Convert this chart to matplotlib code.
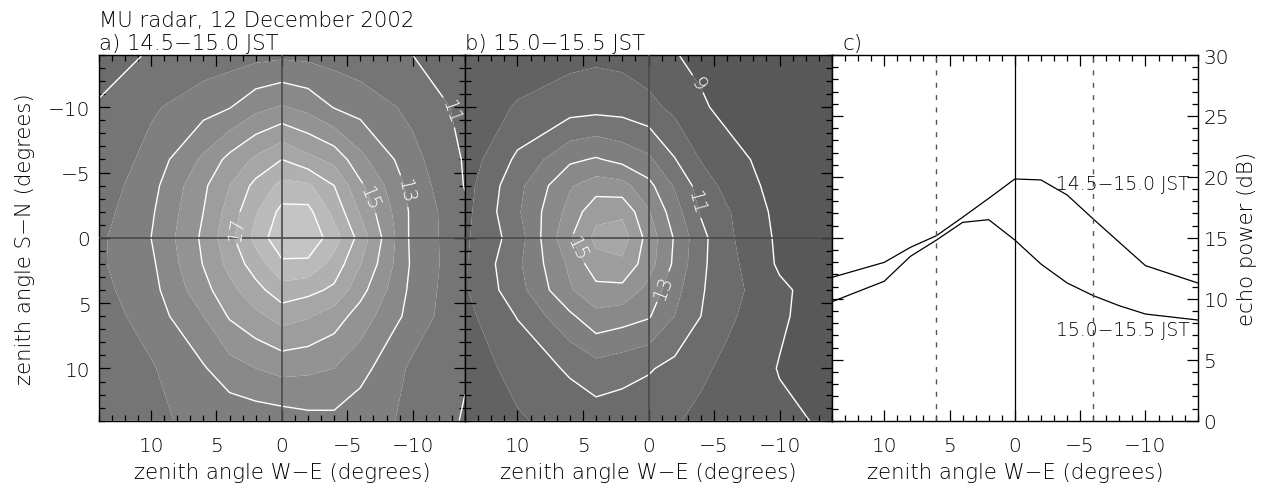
import numpy as np
import matplotlib
matplotlib.use("Agg")
import matplotlib.pyplot as plt
from matplotlib.ticker import MultipleLocator

plt.rcParams['font.family'] = ['DejaVu Sans']
plt.rcParams['font.weight'] = 'light'
plt.rcParams['axes.labelweight'] = 'light'
plt.rcParams['axes.unicode_minus'] = True

# ---------------- data ----------------
# grid of zenith angles (degrees); x = W-E, y = S-N
zen = [-14, -10, -6, -4, -2, 0, 2, 4, 6, 10, 14]

# echo power (dB), rows: S-N from -14 to 14, columns: W-E from -14 to 14
power_a = [
    [10.4, 11.0, 11.4, 11.6, 11.75, 11.8, 11.7, 11.55, 11.4, 11.1, 10.5],
    [10.7, 11.75, 12.6, 12.95, 13.7, 14.1, 13.7, 12.95, 12.6, 11.85, 11.1],
    [10.9, 12.3, 14.3, 15.7, 16.3, 17.0, 16.2, 15.3, 14.2, 12.35, 11.2],
    [10.95, 12.6, 15.2, 17.0, 18.2, 18.3, 17.3, 16.0, 14.8, 12.65, 11.4],
    [11.2, 12.75, 15.9, 17.7, 19.3, 19.3, 17.9, 16.4, 15.0, 12.85, 11.6],
    [11.3, 12.7, 16.6, 18.5, 19.7, 19.8, 18.3, 16.7, 15.2, 13.0, 11.8],
    [11.25, 12.8, 16.05, 17.6, 18.8, 18.8, 17.5, 16.3, 15.05, 12.8, 11.85],
    [11.2, 12.7, 15.35, 16.8, 17.3, 17.6, 16.65, 15.7, 14.65, 12.65, 11.7],
    [11.15, 12.6, 14.55, 15.5, 16.1, 16.4, 15.75, 15.1, 14.0, 12.45, 11.5],
    [11.1, 11.8, 13.35, 14.0, 14.2, 14.3, 14.0, 13.6, 12.9, 11.9, 11.35],
    [10.9, 11.8, 12.4, 12.75, 12.7, 12.5, 12.4, 12.3, 12.2, 11.85, 11.2],
]

power_b = [
    [8.1, 8.3, 8.6, 8.75, 9.05, 9.4, 9.7, 9.8, 9.7, 9.4, 9.1],
    [8.15, 8.3, 8.7, 9.15, 9.75, 10.3, 10.6, 10.65, 10.55, 10.1, 9.3],
    [8.2, 8.5, 9.4, 9.95, 11.05, 12.2, 12.7, 13.1, 12.8, 11.2, 9.4],
    [8.2, 8.6, 9.7, 10.55, 11.9, 13.3, 14.35, 14.5, 13.9, 11.7, 9.6],
    [8.2, 8.7, 10.1, 10.9, 12.45, 14.1, 15.8, 15.7, 14.35, 11.85, 9.7],
    [8.3, 8.8, 10.2, 11.3, 12.9, 14.6, 16.5, 16.27, 14.9, 11.48, 9.84],
    [8.35, 8.85, 10.35, 11.2, 12.8, 14.45, 15.8, 15.6, 14.2, 11.8, 9.9],
    [8.4, 9.2, 10.4, 11.1, 12.35, 13.7, 14.7, 14.7, 13.9, 11.6, 9.9],
    [8.4, 9.15, 10.2, 11.0, 12.0, 13.1, 13.45, 13.7, 12.8, 11.05, 9.7],
    [8.3, 8.95, 9.75, 10.2, 10.7, 11.1, 11.35, 11.6, 11.15, 10.3, 9.5],
    [8.85, 9.2, 9.5, 9.75, 10.1, 10.3, 10.45, 10.5, 10.35, 9.9, 9.3],
]

# W-E cuts (panel c)
cut_x = [14, 10, 8, 6, 4, 2, 0, -2, -4, -6, -8, -10, -14]
cut_a = [11.76, 12.99, 14.22, 15.18, 16.69, 18.24, 19.83, 19.75, 18.52, 16.55, 14.63, 12.72, 11.3]
cut_b = [9.76, 11.44, 13.48, 14.82, 16.27, 16.49, 14.82, 12.85, 11.3, 10.26, 9.43, 8.75, 8.26]

title_main = "MU radar, 12 December 2002"
panel_titles = ["a) 14.5\u221215.0 JST", "b) 15.0\u221215.5 JST", "c)"]
series_labels = ["14.5\u221215.0 JST", "15.0\u221215.5 JST"]

fill_levels = np.arange(7, 22, 1)
line_a = [11, 13, 15, 17, 19]
line_b = [9, 11, 13, 15]

# ---------------- figure ----------------
W, H = 1262, 485
fig = plt.figure(figsize=(W / 100, H / 100), dpi=100)
fig.patch.set_facecolor('white')


def rect(l, r, t, b):
    return [l / W, 1 - b / H, (r - l) / W, (b - t) / H]


axa = fig.add_axes(rect(98.7, 465, 56, 421.7))
axb = fig.add_axes(rect(465, 832, 56, 421.7))
axc = fig.add_axes(rect(832, 1197.7, 56, 421.7))

FS = 15.3
FS_NUM = 14.5


def band_color(k):
    g = (88 + 9.8 * (k - 8)) / 255.0
    g = min(max(g, 0), 1)
    return (g, g, g)


band_colors = [band_color(k) for k in fill_levels[:-1]]

X, Y = np.meshgrid(zen, zen)


def style_axes(ax):
    ax.xaxis.set_major_locator(MultipleLocator(5))
    ax.xaxis.set_minor_locator(MultipleLocator(1))
    ax.yaxis.set_major_locator(MultipleLocator(5))
    ax.yaxis.set_minor_locator(MultipleLocator(1))
    ax.tick_params(which='both', direction='in', top=True, right=True,
                   bottom=True, left=True, colors='black', labelsize=FS_NUM)
    ax.tick_params(which='major', length=8, width=0.9)
    ax.tick_params(which='minor', length=4, width=0.9)
    ax.tick_params(axis='x', pad=11)
    ax.tick_params(axis='y', pad=6)
    for s in ax.spines.values():
        s.set_linewidth(1.0)
        s.set_color('black')


def draw_map(ax, Z, lines, label_levels, label_pos):
    Z = np.array(Z)
    ax.contourf(X, Y, Z, levels=fill_levels, colors=band_colors, antialiased=True)
    cs = ax.contour(X, Y, Z, levels=lines, colors='white', linewidths=1.0)
    ax.axvline(0, color='#4a4a4a', lw=1.2, zorder=3)
    ax.axhline(0, color='#4a4a4a', lw=1.2, zorder=3)
    ax.clabel(cs, levels=label_levels, manual=label_pos, inline=True, inline_spacing=4,
              fmt='%d', fontsize=FS_NUM - 0.5, colors='white')
    ax.set_xlim(14, -14)
    ax.set_ylim(14, -14)
    style_axes(ax)
    ax.set_xlabel("zenith angle W\u2212E (degrees)", fontsize=FS, labelpad=5)


draw_map(axa, power_a, line_a, [11, 13, 15, 17],
         [(3.2, -0.7), (-6.6, -3.0), (-8.75, -3.5), (-12.6, -9.6)])
axa.set_ylabel("zenith angle S\u2212N (degrees)", fontsize=FS, labelpad=9)

draw_map(axb, power_b, line_b, [9, 11, 13, 15],
         [(-3.56, -11.65), (-3.2, -2.6), (-1.0, 3.7), (5.6, 0.9)])
axb.tick_params(labelleft=False)

# panel c
axc.plot(cut_x, cut_a, color='black', lw=0.9)
axc.plot(cut_x, cut_b, color='black', lw=0.9)
axc.axvline(0, color='black', lw=0.9)
for xv in (6, -6):
    axc.axvline(xv, color='#555555', lw=1.0, dashes=(3.6, 5.3))
axc.set_xlim(14, -14)
axc.set_ylim(0, 30)
style_axes(axc)
axc.tick_params(labelleft=False, labelright=True)
axc.tick_params(axis='y', pad=4)
axc.set_xlabel("zenith angle W\u2212E (degrees)", fontsize=FS, labelpad=5)
axc.yaxis.set_label_position('right')
axc.set_ylabel("echo power (dB)", fontsize=FS, labelpad=6)
axc.text(-13.4, 19.46, series_labels[0], ha='right', va='center', fontsize=13.5)
axc.text(-13.4, 7.52, series_labels[1], ha='right', va='center', fontsize=13.5)

# titles
fig.text(99 / W, 1 - 27 / H, title_main, ha='left', va='baseline', fontsize=FS)
fig.text(99 / W, 1 - 50 / H, panel_titles[0], ha='left', va='baseline', fontsize=FS)
fig.text(465 / W, 1 - 50 / H, panel_titles[1], ha='left', va='baseline', fontsize=FS)
fig.text(843 / W, 1 - 50 / H, panel_titles[2], ha='left', va='baseline', fontsize=FS)

fig.savefig("out.png", dpi=100, facecolor='white')
